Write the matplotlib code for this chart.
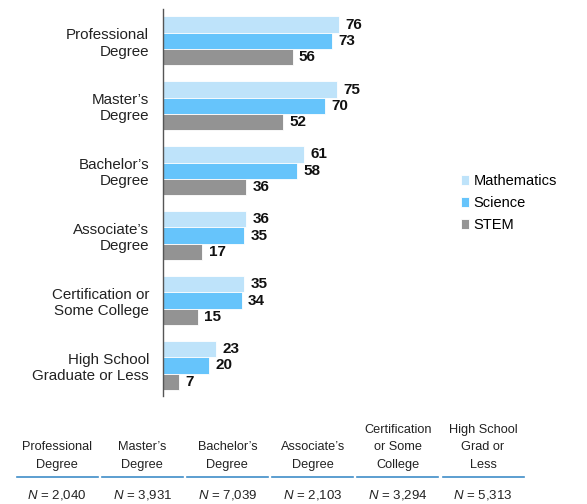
import matplotlib
matplotlib.use("Agg")
import matplotlib.pyplot as plt
from matplotlib.lines import Line2D
import numpy as np

plt.rcParams['font.family'] = ['Liberation Sans', 'DejaVu Sans']
plt.rcParams['mathtext.fontset'] = 'custom'
plt.rcParams['mathtext.it'] = 'Liberation Sans:italic'
plt.rcParams['mathtext.rm'] = 'Liberation Sans'

categories = ["Professional\nDegree", "Master\u2019s\nDegree", "Bachelor\u2019s\nDegree",
              "Associate\u2019s\nDegree", "Certification or\nSome College",
              "High School\nGraduate or Less"]
series_names = ["Mathematics", "Science", "STEM"]
mathematics = [76, 75, 61, 36, 35, 23]
science = [73, 70, 58, 35, 34, 20]
stem = [56, 52, 36, 17, 15, 7]
colors = ["#BEE3FA", "#66C4FB", "#939393"]

table_headers = ["Professional\nDegree", "Master\u2019s\nDegree", "Bachelor\u2019s\nDegree",
                 "Associate\u2019s\nDegree", "Certification\nor Some\nCollege",
                 "High School\nGrad or\nLess"]
table_n = ["2,040", "3,931", "7,039", "2,103", "3,294", "5,313"]

W, H = 587, 504
fig = plt.figure(figsize=(W / 100, H / 100), dpi=100)
ax_left, ax_right = 163, 163 + 231.6
ax_top, ax_bot = 9, 396
ax = fig.add_axes([ax_left / W, 1 - ax_bot / H, (ax_right - ax_left) / W, (ax_bot - ax_top) / H])

y = np.arange(len(categories))
bh = 0.25
series = [mathematics, science, stem]
bars = []
for i, (vals, c, name) in enumerate(zip(series, colors, series_names)):
    b = ax.barh(y + (i - 1) * bh, vals, height=bh, color=c, edgecolor='white',
                linewidth=0.6, label=name)
    bars.append(b)
    for yy, v in zip(y + (i - 1) * bh, vals):
        ax.annotate(str(v), (v, yy), xytext=(4.5, 0), textcoords='offset points',
                    ha='left', va='center', fontsize=11, fontweight='bold', color='#111111')

ax.set_xlim(0, 100)
ax.set_ylim(5.47, -0.49)
ax.set_yticks(y)
ax.set_yticklabels(categories, fontsize=10.9, color='#222222', linespacing=1.2)
ax.tick_params(axis='y', length=0, pad=10)
ax.set_xticks([])
for s in ['top', 'right', 'bottom']:
    ax.spines[s].set_visible(False)
ax.spines['left'].set_color('#555555')
ax.spines['left'].set_linewidth(1.0)

fig.legend(handles=bars, labels=series_names, loc='upper left',
           bbox_to_anchor=(461 / W, 1 - 174 / H), frameon=False, fontsize=10.5,
           handlelength=0.55, handleheight=0.7, handletextpad=0.3, labelspacing=0.55,
           borderaxespad=0, borderpad=0)

# table below
pitch = 85.2
x0 = 57
for k, (hdr, n) in enumerate(zip(table_headers, table_n)):
    cx = x0 + k * pitch
    fig.text(cx / W, 1 - 471 / H, hdr, ha='center', va='bottom', fontsize=9.2,
             color='#222222', linespacing=1.62, multialignment='center')
    fig.add_artist(Line2D([(cx - 40.5) / W, (cx + 40.5) / W], [1 - 477 / H, 1 - 477 / H],
                          color='#3F8DC8', linewidth=1.2, transform=fig.transFigure))
    fig.text(cx / W, 1 - 495 / H, r'$\mathit{N}$ = ' + n, ha='center', va='center',
             fontsize=9.5, color='#222222')

fig.savefig("out.png", dpi=100, facecolor='white')
